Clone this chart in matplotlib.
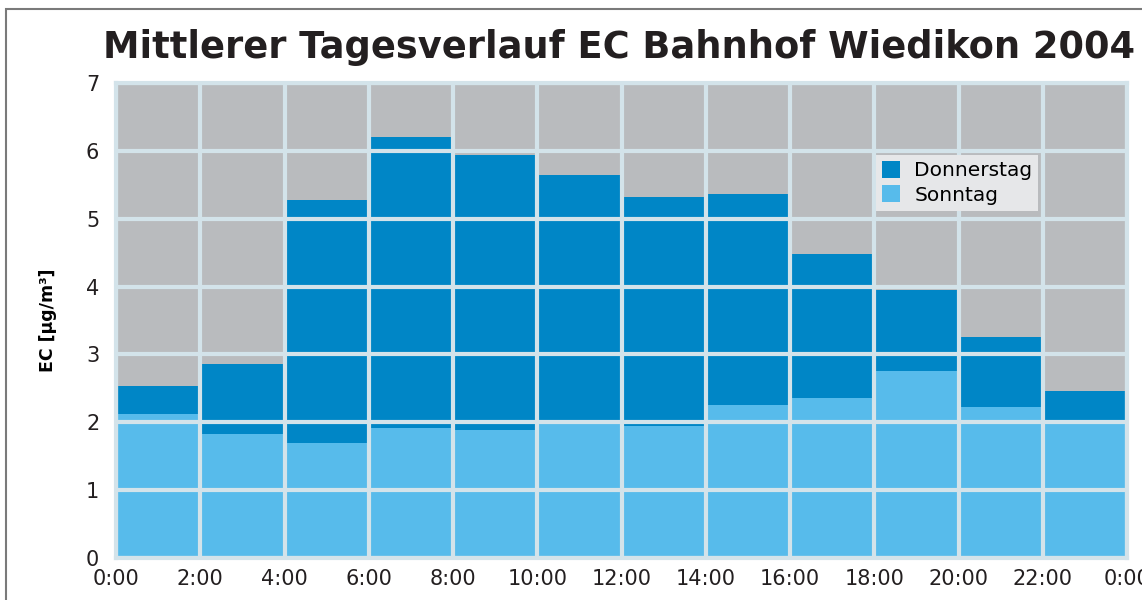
import matplotlib
matplotlib.use("Agg")
import matplotlib.pyplot as plt
from matplotlib.patches import Rectangle

plt.rcParams["font.family"] = ["DejaVu Sans"]

# Daten: 2-Stunden-Mittel
stunden = [0, 2, 4, 6, 8, 10, 12, 14, 16, 18, 20, 22]
donnerstag = [2.53, 2.86, 5.28, 6.20, 5.94, 5.64, 5.32, 5.36, 4.48, 3.95, 3.26, 2.46]
sonntag = [2.12, 1.83, 1.69, 1.92, 1.89, 1.97, 1.95, 2.25, 2.36, 2.76, 2.23, 1.99]
x_ticks = list(range(0, 26, 2))
x_labels = [f"{h % 24}:00" for h in x_ticks]

c_do = "#0086c6"
c_so = "#57bbeb"
c_grid = "#d3e3ea"

fig = plt.figure(figsize=(11.42, 6), dpi=100)
# Rahmen oben/links
fig.patches.append(Rectangle((6 / 1142, -0.1), 1.2, 1.1 - 9 / 600, transform=fig.transFigure,
                             fill=False, edgecolor="#7a7a7a", linewidth=1.5))

ax = fig.add_axes([116 / 1142, 1 - 558 / 600, (1127 - 116) / 1142, (558 - 83) / 600])
ax.set_facecolor("#b9bbbe")

ax.bar(stunden, donnerstag, width=2, align="edge", color=c_do, label="Donnerstag", zorder=1)
ax.bar(stunden, sonntag, width=2, align="edge", color=c_so, label="Sonntag", zorder=2)

ax.set_xlim(0, 24)
ax.set_ylim(0, 7)
ax.set_xticks(x_ticks)
ax.set_xticklabels(x_labels)
ax.set_yticks(range(0, 8))
ax.tick_params(length=0, labelsize=15, colors="#231f20", pad=8)
ax.tick_params(axis="y", pad=12)
ax.grid(True, color=c_grid, linewidth=3, zorder=3)
ax.set_axisbelow(False)
for s in ax.spines.values():
    s.set_color(c_grid)
    s.set_linewidth(3)

ax.set_ylabel("EC [µg/m³]", fontsize=12.5, fontweight="bold", labelpad=21)

leg = ax.legend(loc="upper left", bbox_to_anchor=((876 - 116) / 1011, (558 - 155) / 475),
                borderaxespad=0, frameon=True, fancybox=False, fontsize=14.5,
                handlelength=0.9, handleheight=0.9,
                borderpad=0.3, labelspacing=0.25, handletextpad=0.7)
leg.get_frame().set_facecolor("#e6e7e9")
leg.get_frame().set_edgecolor("none")
leg.get_frame().set_alpha(1)

fig.text(0.09, 1 - 47 / 600, "Mittlerer Tagesverlauf EC Bahnhof Wiedikon 2004",
         fontsize=26.5, fontweight="bold", color="#231f20",
         va="center", ha="left")

fig.savefig("out.png", dpi=100)
